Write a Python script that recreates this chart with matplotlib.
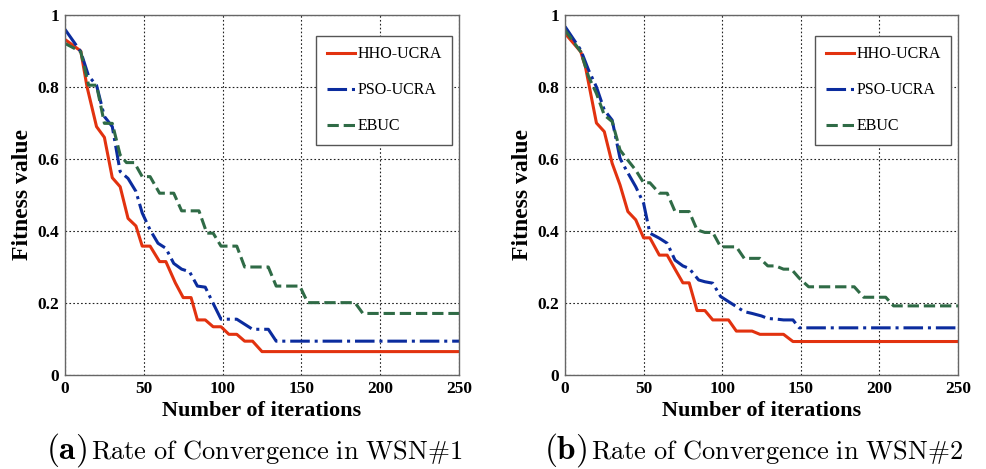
import matplotlib
matplotlib.use("Agg")
import matplotlib.pyplot as plt

plt.rcParams['mathtext.fontset'] = 'cm'

# ---- data: WSN#1 ----
hho1_x = [0, 10, 14, 20, 25, 30, 35, 40, 45, 49, 54, 60, 64, 70, 75, 80, 84, 89, 94, 99, 104, 109, 114, 119, 125, 250]
hho1_y = [.932, .90, .80, .69, .66, .548, .523, .435, .414, .358, .358, .315, .315, .256, .215, .215, .153, .153, .134, .134, .113, .113, .094, .094, .065, .065]
pso1_x = [0, 10, 15, 20, 25, 30, 35, 40, 45, 49, 54, 59, 64, 69, 74, 79, 84, 89, 94, 99, 104, 109, 119, 129, 134, 250]
pso1_y = [.96, .898, .83, .805, .718, .69, .565, .546, .51, .45, .403, .366, .352, .31, .294, .287, .247, .244, .199, .155, .155, .155, .127, .127, .094, .094]
ebuc1_x = [0, 10, 15, 20, 25, 30, 35, 39, 44, 49, 54, 60, 69, 74, 85, 90, 94, 99, 109, 114, 129, 134, 149, 154, 184, 189, 250]
ebuc1_y = [.921, .898, .805, .805, .699, .699, .611, .59, .59, .551, .551, .505, .505, .456, .456, .394, .394, .358, .358, .30, .30, .247, .247, .201, .201, .171, .171]

# ---- data: WSN#2 ----
hho2_x = [0, 10, 13, 20, 25, 30, 35, 40, 45, 50, 54, 60, 65, 70, 75, 79, 84, 89, 94, 104, 109, 119, 124, 139, 145, 250]
hho2_y = [.949, .898, .856, .70, .676, .588, .528, .454, .431, .381, .381, .333, .333, .294, .256, .256, .179, .179, .153, .153, .122, .122, .113, .113, .093, .093]
pso2_x = [0, 10, 15, 20, 25, 30, 35, 39, 45, 50, 54, 60, 65, 70, 75, 79, 85, 89, 94, 99, 104, 109, 114, 119, 125, 129, 135, 139, 145, 149, 250]
pso2_y = [.968, .903, .847, .80, .736, .708, .602, .569, .523, .477, .394, .38, .366, .319, .303, .296, .264, .259, .255, .218, .204, .19, .176, .171, .164, .157, .155, .153, .153, .131, .131]
ebuc2_x = [0, 10, 15, 20, 25, 30, 35, 39, 45, 50, 54, 60, 65, 70, 79, 84, 89, 94, 99, 109, 114, 124, 129, 134, 139, 144, 149, 155, 184, 190, 204, 209, 250]
ebuc2_y = [.958, .898, .829, .782, .722, .704, .625, .602, .569, .534, .534, .505, .505, .454, .454, .403, .396, .396, .356, .356, .324, .324, .303, .303, .294, .294, .269, .245, .245, .216, .216, .192, .192]

series_names = ['HHO-UCRA', 'PSO-UCRA', 'EBUC']
x_ticks = [0, 50, 100, 150, 200, 250]
y_ticks = [0, 0.2, 0.4, 0.6, 0.8, 1]
y_tick_labels = ['0', '0.2', '0.4', '0.6', '0.8', '1']
caption_tags = [r'$\mathbf{(a)}$', r'$\mathbf{(b)}$']
caption_texts = [r'$\mathrm{Rate\ of\ Convergence\ in\ WSN\#1}$',
                 r'$\mathrm{Rate\ of\ Convergence\ in\ WSN\#2}$']

colors = ['#e2320f', '#0b2c9e', '#2f6b46']
styles = ['-', '-.', '--']

fig = plt.figure(figsize=(9.86, 4.69), dpi=100)
axes = [fig.add_axes([65/986, 94/469, 394/986, 360/469]),
        fig.add_axes([565/986, 94/469, 393/986, 360/469])]

data = [[(hho1_x, hho1_y), (pso1_x, pso1_y), (ebuc1_x, ebuc1_y)],
        [(hho2_x, hho2_y), (pso2_x, pso2_y), (ebuc2_x, ebuc2_y)]]

serif = 'Liberation Serif'
for ax, dset, tag, txt, x0 in zip(axes, data, caption_tags, caption_texts, [89, 589]):
    for (xs, ys), name, c, ls in zip(dset, series_names, colors, styles):
        ax.plot(xs, ys, color=c, linestyle=ls, linewidth=2.2, label=name)
    ax.set_xlim(0, 250)
    ax.set_ylim(0, 1)
    ax.set_xticks(x_ticks)
    ax.set_yticks(y_ticks)
    ax.set_yticklabels(y_tick_labels)
    ax.grid(True, linestyle=(0, (1.5, 2)), color='#222222', linewidth=0.8)
    ax.tick_params(direction='in', length=0, pad=4)
    for lbl in ax.get_xticklabels() + ax.get_yticklabels():
        lbl.set_fontfamily(serif)
        lbl.set_fontweight('bold')
        lbl.set_fontsize(12.5)
    for s in ax.spines.values():
        s.set_color('#666666')
        s.set_linewidth(1.0)
    ax.set_xlabel('Number of iterations', fontfamily=serif, fontweight='bold', fontsize=16, labelpad=3)
    ax.set_ylabel('Fitness value', fontfamily=serif, fontweight='bold', fontsize=17, labelpad=3)
    leg = ax.legend(loc='upper right', bbox_to_anchor=(0.982, 0.942), prop={'family': serif, 'size': 11.5},
                    fancybox=False, edgecolor='#555555', framealpha=1, handlelength=1.75,
                    handletextpad=0.15, labelspacing=1.25, borderpad=0.65, borderaxespad=0)
    leg.get_frame().set_linewidth(1.0)
    fig.text((x0 - 2)/986, 10/469, tag, ha='right', va='baseline', fontsize=24)
    fig.text((x0 + 2)/986, 10/469, txt, ha='left', va='baseline', fontsize=19)

fig.savefig('out.png', dpi=100)
